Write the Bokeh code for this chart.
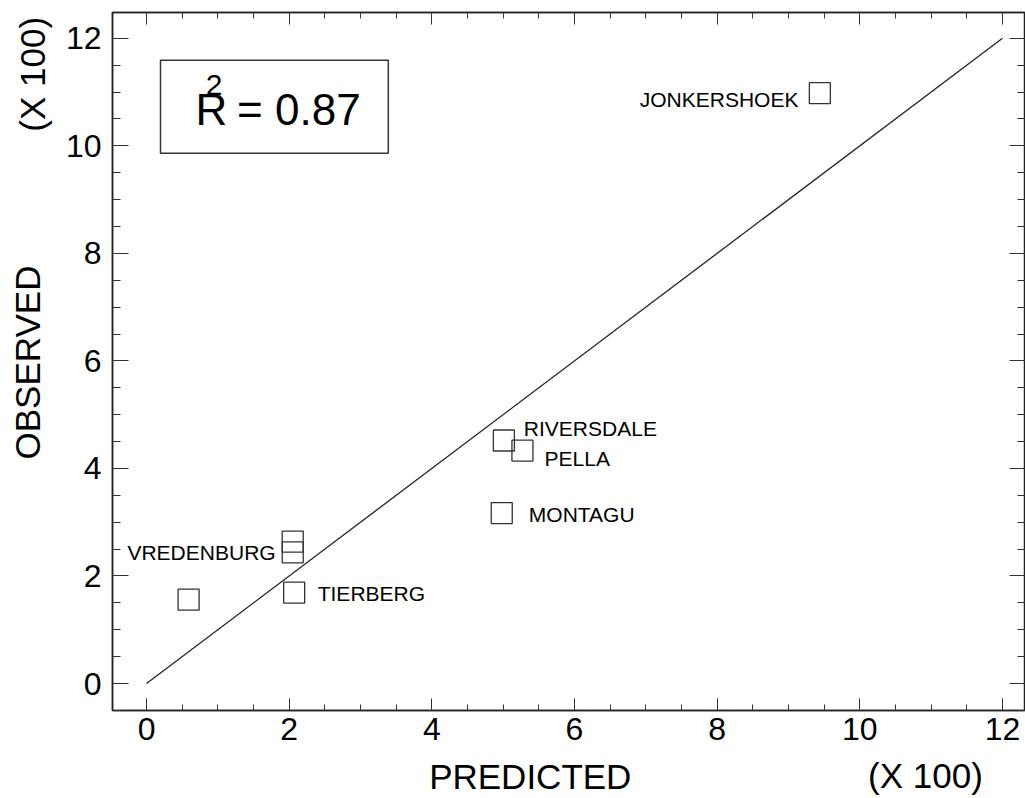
from bokeh.plotting import figure
from bokeh.models import (ColumnDataSource, Label, LinearAxis, SingleIntervalTicker,
                          Range1d, BoxAnnotation, CustomJSTickFormatter)
from bokeh.layouts import column, row
from bokeh.core.properties import value
from bokeh.embed import file_html
from bokeh.resources import INLINE

FONT = "Liberation Sans"

# ---- data (units of 100) ----
site_names = ["JONKERSHOEK", "RIVERSDALE", "PELLA", "MONTAGU", "VREDENBURG", "VREDENBURG", "TIERBERG", ""]
predicted = [9.44, 5.01, 5.27, 4.98, 2.05, 2.05, 2.07, 0.59]
observed = [10.98, 4.52, 4.33, 3.17, 2.64, 2.44, 1.69, 1.56]

# label anchors (data units) for the site names
label_names = ["JONKERSHOEK", "RIVERSDALE", "PELLA", "MONTAGU", "VREDENBURG", "TIERBERG"]
label_x = [9.14, 5.29, 5.58, 5.36, 1.81, 2.40]
label_y = [10.86, 4.75, 4.19, 3.14, 2.43, 1.68]
label_align = ["right", "left", "left", "left", "right", "left"]

line_x = [0, 12]
line_y = [0, 12]
r_squared = "0.87"

x_title = "PREDICTED"
y_title = "OBSERVED"
unit_text = "(X 100)"

# ---- layout sizes ----
LEFT_W = 58
MAIN_W = 967
TOP_H = 755
BOTTOM_H = 42
TOTAL_W = LEFT_W + MAIN_W

# ---------------- main figure ----------------
p = figure(width=MAIN_W, height=TOP_H, output_backend="svg", toolbar_location=None,
           x_range=Range1d(-0.477, 12.323), y_range=Range1d(-0.502, 12.48),
           min_border_left=54, min_border_top=12, min_border_bottom=45, min_border_right=0,
           x_axis_location=None, y_axis_location=None)
p.grid.visible = False
p.outline_line_color = "#222222"
p.outline_line_width = 1.5
p.background_fill_color = "white"
p.border_fill_color = "white"

def style_axis(ax, major_in, minor_in, labels=True):
    ax.ticker = SingleIntervalTicker(interval=2, num_minor_ticks=4)
    ax.major_tick_in = major_in
    ax.major_tick_out = 0
    ax.minor_tick_in = minor_in
    ax.minor_tick_out = 0
    ax.axis_line_color = "#222222"
    ax.axis_line_width = 1.5
    ax.major_tick_line_color = "#333333"
    ax.minor_tick_line_color = "#333333"
    ax.major_tick_line_width = 1
    ax.minor_tick_line_width = 1
    if labels:
        ax.major_label_text_font = FONT
        ax.major_label_text_font_size = "32px"
        ax.major_label_text_color = "black"
    else:
        ax.formatter = CustomJSTickFormatter(code='return ""')
        ax.major_label_standoff = 0

bottom = LinearAxis()
style_axis(bottom, 12, 6)
bottom.major_label_standoff = 7
p.add_layout(bottom, "below")

left = LinearAxis()
style_axis(left, 16, 8)
left.major_label_standoff = 11
p.add_layout(left, "left")

top = LinearAxis()
style_axis(top, 12, 6, labels=False)
p.add_layout(top, "above")

right = LinearAxis()
style_axis(right, 16, 8, labels=False)
p.add_layout(right, "right")

# 1:1 line
p.line(line_x, line_y, line_color="#222222", line_width=1.3)

# points
src = ColumnDataSource(dict(x=predicted, y=observed, name=site_names))
p.scatter("x", "y", source=src, marker="square", size=21, fill_color=None,
          line_color="#333333", line_width=1.3)

# site labels
for name, lx, ly, al in zip(label_names, label_x, label_y, label_align):
    p.add_layout(Label(x=lx, y=ly, text=name, text_align=al, text_baseline="middle",
                       text_font=FONT, text_font_size="21px", text_color="black"))

# R^2 box
p.add_layout(BoxAnnotation(left=0.196, right=3.39, bottom=9.86, top=11.59,
                           fill_color=None, line_color="#333333", line_alpha=1.0,
                           line_width=1.5))
p.add_layout(Label(x=0.687, y=10.68, text="R", text_font=FONT, text_font_size="44px",
                   text_baseline="middle", text_color="black"))
p.add_layout(Label(x=0.83, y=11.13, text="2", text_font=FONT, text_font_size="30px",
                   text_baseline="middle", text_color="black"))
p.add_layout(Label(x=1.27, y=10.68, text="= " + r_squared, text_font=FONT,
                   text_font_size="44px", text_baseline="middle", text_color="black"))

# ---------------- left strip: y title + unit (shares the y scale) ----------------
lf = figure(width=LEFT_W, height=TOP_H, output_backend="svg", toolbar_location=None,
            x_range=Range1d(0, LEFT_W), y_range=p.y_range,
            min_border=0, x_axis_location=None, y_axis_location=None)
lf.grid.visible = False
lf.outline_line_color = None
lf.text(x=[27, 32], y=[5.97, 11.33], text=[y_title, unit_text], angle=1.5707963,
        text_align="center", text_baseline="middle", text_font=value(FONT),
        text_font_size="35px", text_color="black")

# ---------------- bottom strip: x title + unit ----------------
bf = figure(width=TOTAL_W, height=BOTTOM_H, output_backend="svg", toolbar_location=None,
            x_range=Range1d(-2.047, 12.323), y_range=Range1d(TOP_H + BOTTOM_H, TOP_H),
            min_border=0, x_axis_location=None, y_axis_location=None)
bf.grid.visible = False
bf.outline_line_color = None
bf.text(x=[5.38, 10.92], y=[776, 775], text=[x_title, unit_text],
        text_align="center", text_baseline="middle", text_font=value(FONT),
        text_font_size="35px", text_color="black")

layout = column(row(lf, p), bf)
open("out.html", "w").write(file_html(layout, INLINE))
